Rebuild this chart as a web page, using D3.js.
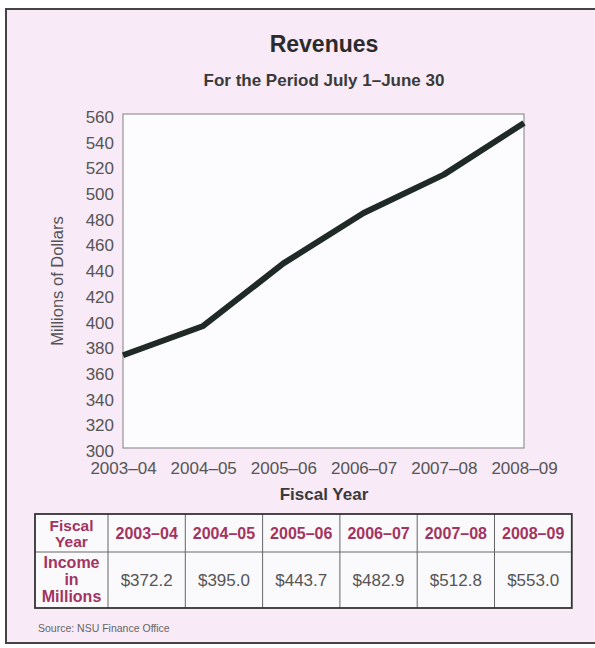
<!DOCTYPE html>
<html>
<head>
<meta charset="utf-8">
<script src="https://cdn.jsdelivr.net/npm/d3@7"></script>
<style>
  body { margin: 0; background: #fff; }
  svg { display: block; font-family: "Liberation Sans", Arial, sans-serif; }
</style>
</head>
<body>
<div id="chart"></div>
<script>
const YEARS = ["2003–04", "2004–05", "2005–06", "2006–07", "2007–08", "2008–09"];
const INCOME = [372.2, 395.0, 443.7, 482.9, 512.8, 553.0];
const Y_TICKS = d3.range(300, 561, 20);

const width = 595, height = 648;
const margin = { top: 114, right: 71, bottom: 200, left: 123 };
const innerW = width - margin.left - margin.right;
const innerH = height - margin.top - margin.bottom;

const svg = d3.select("#chart")
    .append("svg")
    .attr("width", width)
    .attr("height", height);

// pink panel with frame
svg.append("rect")
    .attr("x", 6).attr("y", 9)
    .attr("width", 600).attr("height", 634)
    .attr("fill", "#f8eaf6")
    .attr("stroke", "#444")
    .attr("stroke-width", 2);

svg.append("text")
    .attr("x", 324).attr("y", 52)
    .attr("text-anchor", "middle")
    .style("font-size", "23px")
    .style("font-weight", "bold")
    .attr("fill", "#2b2b2b")
    .text("Revenues");

svg.append("text")
    .attr("x", 324).attr("y", 86)
    .attr("text-anchor", "middle")
    .style("font-size", "17px")
    .style("font-weight", "bold")
    .attr("fill", "#3a3a3a")
    .text("For the Period July 1–June 30");

const g = svg.append("g")
    .attr("transform", `translate(${margin.left},${margin.top})`);

const x = d3.scalePoint()
    .domain(YEARS)
    .range([0, innerW]);

const y = d3.scaleLinear()
    .domain([300, 560])
    .range([innerH, 0]);

g.append("rect")
    .attr("width", innerW)
    .attr("height", innerH)
    .attr("fill", "#fcfcfe")
    .attr("stroke", "#808080")
    .attr("stroke-width", 1);

const yAxis = g.append("g")
    .call(d3.axisLeft(y).tickValues(Y_TICKS).tickSize(0).tickPadding(9));
yAxis.select(".domain").remove();
yAxis.selectAll("text")
    .attr("dy", "0.5em")
    .style("font-size", "17px")
    .style("font-family", "'Liberation Sans', Arial, sans-serif")
    .attr("fill", "#555");

const xAxis = g.append("g")
    .attr("transform", `translate(0,${innerH})`)
    .call(d3.axisBottom(x).tickSize(0).tickPadding(14));
xAxis.select(".domain").remove();
xAxis.selectAll("text")
    .style("font-size", "17px")
    .style("font-family", "'Liberation Sans', Arial, sans-serif")
    .attr("fill", "#555");

svg.append("text")
    .attr("transform", `translate(63,${margin.top + innerH / 2}) rotate(-90)`)
    .attr("text-anchor", "middle")
    .style("font-size", "16.5px")
    .attr("fill", "#555")
    .text("Millions of Dollars");

svg.append("text")
    .attr("x", 324).attr("y", 500)
    .attr("text-anchor", "middle")
    .style("font-size", "17px")
    .style("font-weight", "bold")
    .attr("fill", "#3a3a3a")
    .text("Fiscal Year");

const line = d3.line()
    .x((d, i) => x(YEARS[i]))
    .y(d => y(d));

g.append("path")
    .datum(INCOME)
    .attr("d", line)
    .attr("fill", "none")
    .attr("stroke", "#1f2925")
    .attr("stroke-width", 6)
    .attr("stroke-linejoin", "round");

// data table
const tbl = { x: 35, y: 514, labelW: 73, colW: 77.3, row1: 38, row2: 56 };
const tg = svg.append("g");
const colX = i => tbl.x + tbl.labelW + i * tbl.colW;
const tblW = tbl.labelW + YEARS.length * tbl.colW;

tg.append("rect")
    .attr("x", tbl.x).attr("y", tbl.y)
    .attr("width", tblW).attr("height", tbl.row1 + tbl.row2)
    .attr("fill", "#fafafc");

tg.selectAll(".vline")
    .data(YEARS)
    .enter().append("line")
    .attr("x1", (d, i) => colX(i)).attr("x2", (d, i) => colX(i))
    .attr("y1", tbl.y).attr("y2", tbl.y + tbl.row1 + tbl.row2)
    .attr("stroke", "#666").attr("stroke-width", 1);

tg.append("line")
    .attr("x1", tbl.x).attr("x2", tbl.x + tblW)
    .attr("y1", tbl.y + tbl.row1).attr("y2", tbl.y + tbl.row1)
    .attr("stroke", "#666").attr("stroke-width", 1);

tg.append("rect")
    .attr("x", tbl.x).attr("y", tbl.y)
    .attr("width", tblW).attr("height", tbl.row1 + tbl.row2)
    .attr("fill", "none")
    .attr("stroke", "#333").attr("stroke-width", 1.8);

const magenta = "#a3345f";
const labelCx = tbl.x + tbl.labelW / 2;

tg.append("text")
    .attr("x", labelCx).attr("y", tbl.y + 17)
    .attr("text-anchor", "middle")
    .style("font-size", "15.5px").style("font-weight", "bold")
    .attr("fill", magenta)
    .selectAll("tspan")
    .data(["Fiscal", "Year"])
    .enter().append("tspan")
    .attr("x", labelCx)
    .attr("dy", (d, i) => i ? 16 : 0)
    .text(d => d);

tg.append("text")
    .attr("x", labelCx).attr("y", tbl.y + tbl.row1 + 16)
    .attr("text-anchor", "middle")
    .style("font-size", "16px").style("font-weight", "bold")
    .attr("fill", magenta)
    .selectAll("tspan")
    .data(["Income", "in", "Millions"])
    .enter().append("tspan")
    .attr("x", labelCx)
    .attr("dy", (d, i) => i ? 17 : 0)
    .text(d => d);

tg.selectAll(".yr")
    .data(YEARS)
    .enter().append("text")
    .attr("x", (d, i) => colX(i) + tbl.colW / 2)
    .attr("y", tbl.y + tbl.row1 / 2 + 6)
    .attr("text-anchor", "middle")
    .style("font-size", "16px").style("font-weight", "bold")
    .attr("fill", magenta)
    .text(d => d);

tg.selectAll(".val")
    .data(INCOME)
    .enter().append("text")
    .attr("x", (d, i) => colX(i) + tbl.colW / 2)
    .attr("y", tbl.y + tbl.row1 + tbl.row2 / 2 + 6)
    .attr("text-anchor", "middle")
    .style("font-size", "17px")
    .attr("fill", "#555")
    .text(d => "$" + d3.format(".1f")(d));

svg.append("text")
    .attr("x", 38).attr("y", 632)
    .style("font-size", "10.5px")
    .style("font-family", "'Liberation Sans Narrow', 'Liberation Sans', sans-serif")
    .attr("fill", "#666")
    .text("Source: NSU Finance Office");
</script>
</body>
</html>
